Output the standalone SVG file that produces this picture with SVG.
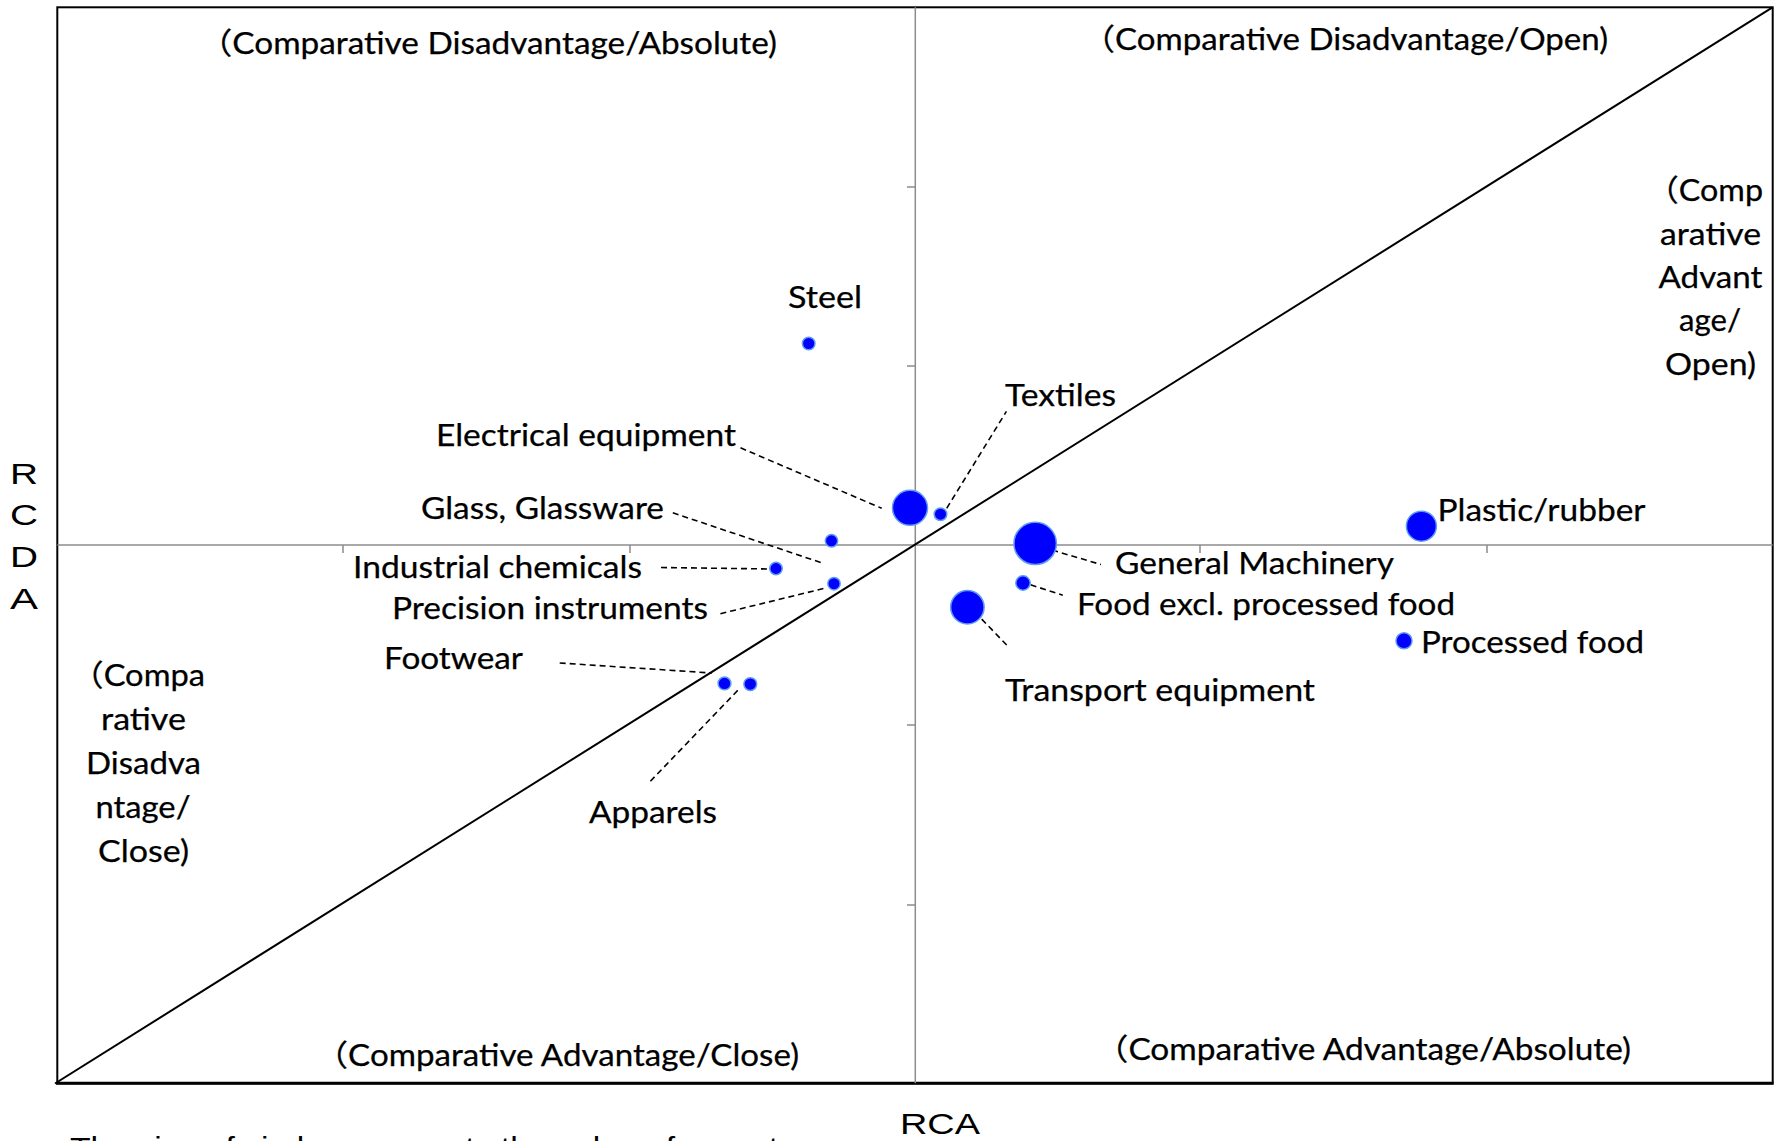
<svg xmlns="http://www.w3.org/2000/svg" width="1781" height="1141" viewBox="0 0 1781 1141">
<style>
.lbl{font-family:Lato,"Noto Sans","Noto Sans CJK JP",sans-serif;font-size:30px;fill:#000;stroke:#000;stroke-width:0.25}
.cjk{font-family:"Noto Sans CJK JP","Noto Sans CJK SC",sans-serif}
.ax{font-family:"Liberation Sans",Arial,sans-serif;font-size:30px;fill:#000}
.dot{fill:#0000ff;stroke:#5f9bf0;stroke-width:1.5}
.lead{stroke:#000;stroke-width:1.6;stroke-dasharray:6 4;fill:none}
.axis{stroke:#8c8c8c;stroke-width:1.5;fill:none}
</style>
<rect width="1781" height="1141" fill="#fff"/>
<g id="frame">
<rect x="57.3" y="7.3" width="1715.4" height="1076" fill="none" stroke="#000" stroke-width="2"/>
<line x1="56" y1="1083.3" x2="1773.5" y2="1083.3" stroke="#000" stroke-width="3"/>
</g>
<g id="axes">
<line class="axis" x1="57.3" y1="545" x2="1772.7" y2="545"/>
<line class="axis" x1="915.3" y1="7.3" x2="915.3" y2="1083.3"/>
<path class="axis" d="M343,545V553M630,545V553M1200,545V553M1487,545V553M907,187H915M907,366H915M907,725H915M907,905H915"/>
</g>
<g id="diagonal">
<line x1="55" y1="1083.5" x2="1772.5" y2="7.3" stroke="#000" stroke-width="2"/>
</g>
<g id="connectors">
<line class="lead" x1="740.5" y1="447.8" x2="881.7" y2="508.3"/>
<line class="lead" x1="672.8" y1="512.8" x2="821" y2="562.6"/>
<line class="lead" x1="661" y1="567.5" x2="772" y2="569"/>
<line class="lead" x1="720.4" y1="613.7" x2="826.6" y2="587.8"/>
<line class="lead" x1="559.7" y1="663" x2="711.8" y2="673"/>
<line class="lead" x1="737.7" y1="690.4" x2="648.7" y2="783"/>
<line class="lead" x1="946.7" y1="508.3" x2="1006.4" y2="411.4"/>
<line class="lead" x1="1042.6" y1="547.3" x2="1101" y2="564.5"/>
<line class="lead" x1="1030.6" y1="584.8" x2="1062.8" y2="595.2"/>
<line class="lead" x1="974.8" y1="611.9" x2="1007.6" y2="646"/>
</g>
<g id="steel"><circle class="dot" cx="808.7" cy="343.5" r="6.3"/><text class="lbl" x="788" y="308" textLength="74" lengthAdjust="spacingAndGlyphs">Steel</text></g>
<g id="electrical"><circle class="dot" cx="910" cy="507.8" r="17.5"/><text class="lbl" x="436" y="446" textLength="300" lengthAdjust="spacingAndGlyphs">Electrical equipment</text></g>
<g id="textiles"><circle class="dot" cx="940.5" cy="514.2" r="6.3"/><text class="lbl" x="1005" y="405.7" textLength="111" lengthAdjust="spacingAndGlyphs">Textiles</text></g>
<g id="glass"><circle class="dot" cx="831.5" cy="540.8" r="6.2"/><text class="lbl" x="421" y="518.6" textLength="243" lengthAdjust="spacingAndGlyphs">Glass, Glassware</text></g>
<g id="chemicals"><circle class="dot" cx="776" cy="568.5" r="6.2"/><text class="lbl" x="353" y="578" textLength="289" lengthAdjust="spacingAndGlyphs">Industrial chemicals</text></g>
<g id="precision"><circle class="dot" cx="834" cy="583.7" r="6.2"/><text class="lbl" x="392" y="619.3" textLength="316" lengthAdjust="spacingAndGlyphs">Precision instruments</text></g>
<g id="footwear"><circle class="dot" cx="724.5" cy="683.4" r="6.4"/><text class="lbl" x="384" y="669.3" textLength="139" lengthAdjust="spacingAndGlyphs">Footwear</text></g>
<g id="apparels"><circle class="dot" cx="750.3" cy="684.1" r="6.4"/><text class="lbl" x="589" y="823" textLength="128" lengthAdjust="spacingAndGlyphs">Apparels</text></g>
<g id="machinery"><circle class="dot" cx="1035.2" cy="543.4" r="21.2"/><text class="lbl" x="1115" y="574" textLength="279" lengthAdjust="spacingAndGlyphs">General Machinery</text></g>
<g id="food"><circle class="dot" cx="1023" cy="583" r="7.2"/><text class="lbl" x="1077" y="614.8" textLength="378" lengthAdjust="spacingAndGlyphs">Food excl. processed food</text></g>
<g id="transport"><circle class="dot" cx="967.4" cy="607.2" r="16.7"/><text class="lbl" x="1005" y="700.8" textLength="310" lengthAdjust="spacingAndGlyphs">Transport equipment</text></g>
<g id="processed"><circle class="dot" cx="1404" cy="640.8" r="8"/><text class="lbl" x="1421" y="652.6" textLength="223" lengthAdjust="spacingAndGlyphs">Processed food</text></g>
<g id="plastic"><circle class="dot" cx="1421.4" cy="526.2" r="15"/><text class="lbl" x="1437.5" y="521" textLength="208" lengthAdjust="spacingAndGlyphs">Plastic/rubber</text></g>
<g id="quadrants">
<text class="lbl" x="199" y="54" textLength="578" lengthAdjust="spacingAndGlyphs"><tspan class="cjk">（</tspan>Comparative Disadvantage/Absolute)</text>
<text class="lbl" x="1082" y="50" textLength="526" lengthAdjust="spacingAndGlyphs"><tspan class="cjk">（</tspan>Comparative Disadvantage/Open)</text>
<text class="lbl" x="315" y="1066" textLength="484" lengthAdjust="spacingAndGlyphs"><tspan class="cjk">（</tspan>Comparative Advantage/Close)</text>
<text class="lbl" x="1095" y="1060" textLength="536" lengthAdjust="spacingAndGlyphs"><tspan class="cjk">（</tspan>Comparative Advantage/Absolute)</text>
<text class="lbl" x="1646.5" y="201" textLength="116.5" lengthAdjust="spacingAndGlyphs"><tspan class="cjk">（</tspan>Comp</text>
<text class="lbl" x="1660" y="245" textLength="101" lengthAdjust="spacingAndGlyphs">arative</text>
<text class="lbl" x="1658.5" y="288" textLength="104" lengthAdjust="spacingAndGlyphs">Advant</text>
<text class="lbl" x="1679" y="331" textLength="62" lengthAdjust="spacingAndGlyphs">age/</text>
<text class="lbl" x="1665" y="375" textLength="91" lengthAdjust="spacingAndGlyphs">Open)</text>
<text class="lbl" x="71" y="686" textLength="134" lengthAdjust="spacingAndGlyphs"><tspan class="cjk">（</tspan>Compa</text>
<text class="lbl" x="101" y="730.4" textLength="85" lengthAdjust="spacingAndGlyphs">rative</text>
<text class="lbl" x="86" y="774.2" textLength="115" lengthAdjust="spacingAndGlyphs">Disadva</text>
<text class="lbl" x="95.5" y="817.5" textLength="95" lengthAdjust="spacingAndGlyphs">ntage/</text>
<text class="lbl" x="98" y="862" textLength="91" lengthAdjust="spacingAndGlyphs">Close)</text>
</g>
<g id="axis-labels">
<text class="ax" x="24" y="483.5" text-anchor="middle" textLength="28" lengthAdjust="spacingAndGlyphs">R</text>
<text class="ax" x="24" y="524.5" text-anchor="middle" textLength="28" lengthAdjust="spacingAndGlyphs">C</text>
<text class="ax" x="24" y="566.5" text-anchor="middle" textLength="28" lengthAdjust="spacingAndGlyphs">D</text>
<text class="ax" x="24" y="608.5" text-anchor="middle" textLength="28" lengthAdjust="spacingAndGlyphs">A</text>
<text class="ax" x="900" y="1133.5" textLength="80" lengthAdjust="spacingAndGlyphs">RCA</text>
<text class="ax" x="70" y="1158" textLength="725" lengthAdjust="spacingAndGlyphs">The size of circle represents the value of exports</text>
</g>
</svg>
